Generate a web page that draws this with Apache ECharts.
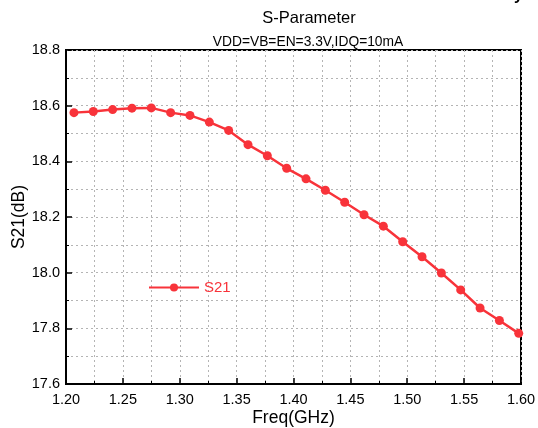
<!DOCTYPE html>
<html><head><meta charset="utf-8">
<script src="https://cdn.jsdelivr.net/npm/echarts@6/dist/echarts.min.js"></script>
<style>html,body{margin:0;padding:0;background:#fff}#c{width:538px;height:428px}</style>
</head><body><div id="c"></div>
<script>
var freq = [1.207,1.224,1.241,1.258,1.275,1.292,1.309,1.326,1.343,1.360,1.377,1.394,1.411,1.428,1.445,1.462,1.479,1.496,1.513,1.530,1.547,1.564,1.581,1.598];
var s21 = [18.575,18.579,18.586,18.591,18.592,18.575,18.565,18.541,18.511,18.460,18.420,18.375,18.337,18.296,18.253,18.208,18.167,18.111,18.057,17.999,17.938,17.873,17.828,17.782];
var xTicks = ['1.20','1.25','1.30','1.35','1.40','1.45','1.50','1.55','1.60'];
var yTicks = ['17.6','17.8','18.0','18.2','18.4','18.6','18.8'];
var titleText = 'S-Parameter';
var subText = 'VDD=VB=EN=3.3V,IDQ=10mA';
var seriesName = 'S21';

var data = freq.map(function(f,i){return [f,s21[i]];});
var font = 'Liberation Sans, Arial, sans-serif';
var red = '#f8333a';
var chart = echarts.init(document.getElementById('c'), null, {renderer:'canvas'});
var gridLine = {show:true, lineStyle:{color:'#b4b4b4', type:[2,3], width:1}};
chart.setOption({
  animation:false,
  textStyle:{fontFamily:font},
  title:[
    {text:titleText, left:309, top:10, padding:0, textAlign:'center', textStyle:{fontSize:16.5, fontWeight:'normal', color:'#000', fontFamily:font}},
    {text:subText, left:308, top:35, padding:0, textAlign:'center', textStyle:{fontSize:13.8, fontWeight:'normal', color:'#000', fontFamily:font}}
  ],
  grid:{left:66, right:17, top:50, bottom:44, containLabel:false, outerBoundsMode:'none', show:true, borderColor:'#000', borderWidth:2, backgroundColor:'transparent'},
  legend:{data:[seriesName], left:143, top:275, itemWidth:50, itemHeight:10, itemGap:0,
    textStyle:{color:red, fontSize:15, fontFamily:font}},
  xAxis:{type:'value', min:1.2, max:1.6, interval:0.05,
    name:'Freq(GHz)', nameLocation:'middle', nameGap:25, nameMoveOverlap:false, nameTextStyle:{fontSize:17.5, color:'#000', fontFamily:font},
    axisLine:{show:true, lineStyle:{color:'#000', width:2}},
    axisTick:{show:true, inside:true, length:6, lineStyle:{color:'#000', width:1.5}},
    minorTick:{show:true, splitNumber:2, length:3, lineStyle:{color:'#000', width:1}},
    axisLabel:{fontSize:14.5, color:'#000', margin:8, fontFamily:font,
      formatter:function(v){var i=Math.round((v-1.2)/0.05);return xTicks[i]!==undefined?xTicks[i]:'';}},
    splitLine:gridLine, minorSplitLine:gridLine},
  yAxis:{type:'value', min:17.6, max:18.8, interval:0.2,
    name:'S21(dB)', nameLocation:'middle', nameGap:38, nameMoveOverlap:false, nameTextStyle:{fontSize:17.5, color:'#000', fontFamily:font},
    axisLine:{show:true, lineStyle:{color:'#000', width:2}},
    axisTick:{show:true, inside:true, length:6, lineStyle:{color:'#000', width:1.5}},
    minorTick:{show:true, splitNumber:2, length:3, lineStyle:{color:'#000', width:1}},
    axisLabel:{fontSize:14.5, color:'#000', margin:6, fontFamily:font,
      formatter:function(v){var i=Math.round((v-17.6)/0.2);return yTicks[i]!==undefined?yTicks[i]:'';}},
    splitLine:gridLine, minorSplitLine:gridLine},
  series:[{name:seriesName, type:'line', data:data, symbol:'circle', symbolSize:9,
    itemStyle:{color:red}, lineStyle:{color:red, width:2.5}}],
  graphic:[{type:'text', left:514, top:-12, style:{text:'y', fill:'#000', font:'bold 16px Liberation Sans'}}]
});
</script></body></html>
